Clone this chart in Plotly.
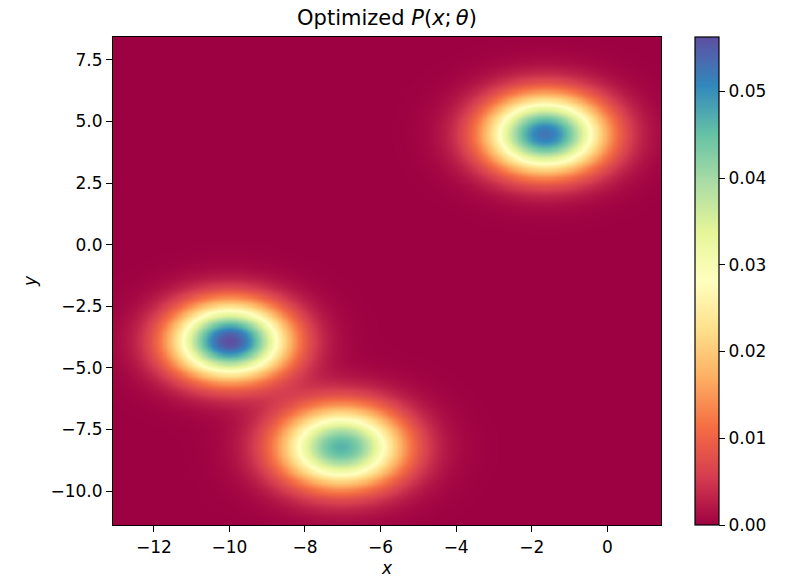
import numpy as np
import plotly.graph_objects as go

# Mixture components
centers_x = [-10.0, -7.05, -1.65]
centers_y = [-3.9, -8.2, 4.5]
peak_values = [0.0563, 0.0465, 0.0525]
widths = [1.05, 1.12, 1.08]

x_limits = [-13.08, 1.42]
y_limits = [-11.38, 8.43]
x_ticks = [-12, -10, -8, -6, -4, -2, 0]
y_ticks = [7.5, 5.0, 2.5, 0.0, -2.5, -5.0, -7.5, -10.0]
cbar_ticks = [0.0, 0.01, 0.02, 0.03, 0.04, 0.05]

n = 220
xs = np.linspace(x_limits[0], x_limits[1], n)
ys = np.linspace(y_limits[0], y_limits[1], n)
X, Y = np.meshgrid(xs, ys)
Z = np.zeros_like(X)
for cx, cy, a, s in zip(centers_x, centers_y, peak_values, widths):
    Z += a * np.exp(-((X - cx) ** 2 + (Y - cy) ** 2) / (2 * s * s))

spectral = [
    [0.0, "#9e0142"], [0.1, "#d53e4f"], [0.2, "#f46d43"], [0.3, "#fdae61"],
    [0.4, "#fee08b"], [0.5, "#ffffbf"], [0.6, "#e6f598"], [0.7, "#abdda4"],
    [0.8, "#66c2a5"], [0.9, "#3288bd"], [1.0, "#5e4fa2"],
]

font = "DejaVu Sans"
tick_font = dict(family=font, size=17, color="black")
fig = go.Figure(go.Heatmap(
    x=xs, y=ys, z=Z, colorscale=spectral, zmin=0, zmax=float(Z.max()),
    zsmooth="best",
    colorbar=dict(
        x=(695 - 113) / 548, xanchor="left", y=0.5, yanchor="middle",
        len=1.0, lenmode="fraction", thickness=24, thicknessmode="pixels",
        outlinewidth=1.2, outlinecolor="black",
        tickvals=cbar_ticks, tickformat=".2f", ticks="outside", ticklen=6,
        tickwidth=1.2, tickcolor="black", tickfont=tick_font,
        xpad=0, ypad=0,
    ),
))

fig.update_layout(
    width=798, height=580,
    margin=dict(l=113, r=137, t=37, b=55, autoexpand=False),
    paper_bgcolor="white", plot_bgcolor="white",
    title=dict(text="Optimized <i>P</i>(<i>x</i>;\u2009<i>θ</i>)", x=(113 + 661) / 2 / 798,
               xanchor="center", y=1 - 18 / 580, yanchor="middle",
               font=dict(family=font, size=21, color="black")),
    font=dict(family=font, color="black"),
)
fig.update_xaxes(
    range=x_limits, tickvals=x_ticks, ticks="outside", ticklen=6, tickwidth=1.2, tickcolor="black",
    showline=True, linecolor="black", linewidth=1.2, mirror=True, showgrid=False, zeroline=False,
    tickfont=tick_font, automargin=False,
    title=dict(text="<i>x</i>", font=dict(family=font, size=17, color="black"), standoff=6),
)
fig.update_yaxes(
    range=y_limits, tickvals=y_ticks, tickformat=".1f", ticks="outside", ticklen=6, tickwidth=1.2,
    tickcolor="black", automargin=False,
    showline=True, linecolor="black", linewidth=1.2, mirror=True, showgrid=False, zeroline=False,
    tickfont=tick_font,
    title=dict(text="<i>y</i>", font=dict(family=font, size=17, color="black"), standoff=9),
)

fig.write_html("out.html")
